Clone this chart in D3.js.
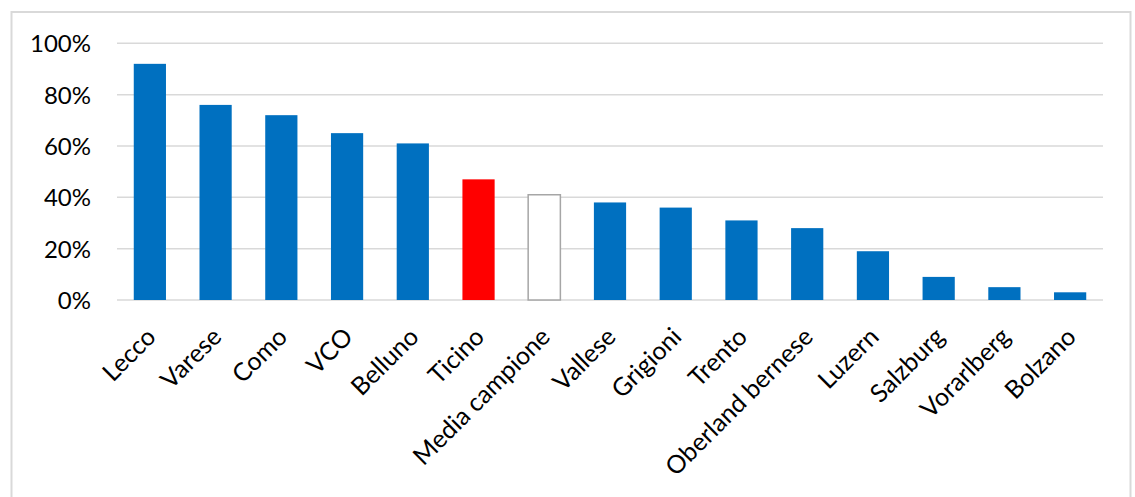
<!DOCTYPE html>
<html>
<head>
<meta charset="utf-8">
<script src="https://cdn.jsdelivr.net/npm/d3@7"></script>
<style>
  html, body { margin: 0; padding: 0; background: #fff; }
  svg { display: block; }
  text { font-family: Lato, "Open Sans", sans-serif; fill: #000; }
</style>
</head>
<body>
<svg id="chart" width="1135" height="497"></svg>
<script>
// Regions and their shares
const categories = ["Lecco", "Varese", "Como", "VCO", "Belluno", "Ticino", "Media campione",
  "Vallese", "Grigioni", "Trento", "Oberland bernese", "Luzern", "Salzburg", "Vorarlberg", "Bolzano"];
const values = [0.92, 0.76, 0.72, 0.65, 0.61, 0.47, 0.41, 0.38, 0.36, 0.31, 0.28, 0.19, 0.09, 0.05, 0.03];
const yTicks = [0, 0.2, 0.4, 0.6, 0.8, 1.0];

const highlight = { "Ticino": "red", "Media campione": "average" };

const svg = d3.select("#chart");

// outer frame (open at the bottom edge of the canvas)
svg.append("rect")
  .attr("x", 11.5).attr("y", 12).attr("width", 1119).attr("height", 520)
  .attr("fill", "#fff").attr("stroke", "#d9d9d9").attr("stroke-width", 2);

const x = d3.scaleBand().domain(categories).range([117, 1103]).paddingInner(0.51).paddingOuter(0.255);
const y = d3.scaleLinear().domain([0, 1]).range([300, 43.3]);

// gridlines
svg.append("g").selectAll("line").data(yTicks).join("line")
  .attr("x1", 117).attr("x2", 1103)
  .attr("y1", d => y(d)).attr("y2", d => y(d))
  .attr("stroke", "#d9d9d9").attr("stroke-width", 1.5);

// y axis labels
const yAxis = d3.axisLeft(y).tickValues(yTicks).tickFormat(d3.format(".0%")).tickSize(0).tickPadding(26);
const ya = svg.append("g").attr("transform", "translate(117,0)").call(yAxis);
ya.select(".domain").remove();
ya.selectAll("text").attr("font-size", 24).attr("font-family", "Lato, sans-serif").attr("fill", "#000").attr("dy", "0.36em");

// bars
svg.append("g").selectAll("rect").data(categories).join("rect")
  .attr("x", d => x(d)).attr("width", x.bandwidth())
  .attr("y", (d, i) => y(values[i])).attr("height", (d, i) => y(0) - y(values[i]))
  .attr("fill", d => highlight[d] === "red" ? "#ff0000" : highlight[d] === "average" ? "#ffffff" : "#0070c0")
  .attr("stroke", d => highlight[d] === "average" ? "#a6a6a6" : "none")
  .attr("stroke-width", 1.5);

// category labels, rotated
svg.append("g").selectAll("text").data(categories).join("text")
  .attr("transform", d => `translate(${x(d) + x.bandwidth() / 2 - 5},${326}) rotate(-45)`)
  .attr("text-anchor", "end")
  .attr("dy", "0.7em")
  .attr("font-size", 25)
  .text(d => d);
</script>
</body>
</html>
